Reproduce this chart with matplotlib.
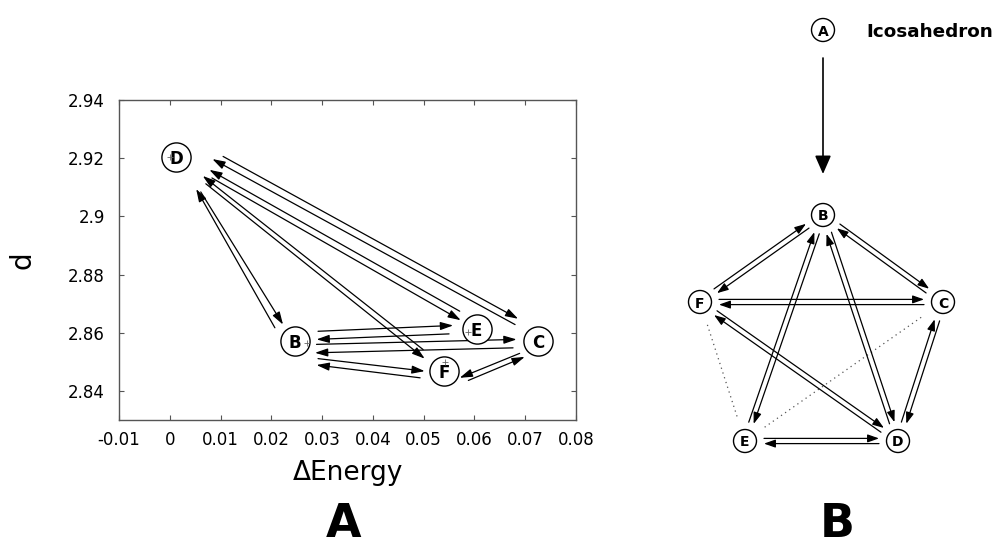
import numpy as np
import matplotlib
matplotlib.use("Agg")
import matplotlib.pyplot as plt
from matplotlib import ticker
from matplotlib.patches import Circle
from matplotlib.transforms import offset_copy

plt.rcParams['font.family'] = ['DejaVu Sans']

# states on the energy / distance plane
state_names = ['D', 'B', 'E', 'F', 'C']
state_energy = [0.0, 0.0271, 0.0588, 0.0542, 0.0725]
state_d = [2.9205, 2.8565, 2.8603, 2.8500, 2.8571]
state_marked = [True, True, True, True, False]

# transitions, one arrow each: tail (x0, y0) -> head (x1, y1)
trans_x0 = [0.0105, 0.0680, 0.0571, 0.0083, 0.0499, 0.0071, 0.0207, 0.0061,
            0.0292, 0.0550, 0.0289, 0.0676, 0.0292, 0.0493, 0.0689, 0.0588]
trans_y0 = [2.9206, 2.8628, 2.8674, 2.9132, 2.8542, 2.9112, 2.8617, 2.9084,
            2.8605, 2.8596, 2.8560, 2.8548, 2.8511, 2.8445, 2.8529, 2.8436]
trans_x1 = [0.0686, 0.0084, 0.0078, 0.0573, 0.0065, 0.0502, 0.0052, 0.0223,
            0.0558, 0.0289, 0.0683, 0.0286, 0.0502, 0.0289, 0.0571, 0.0699]
trans_y1 = [2.8648, 2.9197, 2.9160, 2.8643, 2.9139, 2.8511, 2.9094, 2.8628,
            2.8625, 2.8577, 2.8577, 2.8531, 2.8468, 2.8489, 2.8445, 2.8517]

# icosahedron network: node layout and links
graph_names = ['A', 'B', 'C', 'D', 'E', 'F']
graph_x = [823, 823, 943, 898, 745, 700]
graph_y = [30, 215, 302, 441, 441, 302]
graph_links = [('B', 'F'), ('B', 'C'), ('B', 'E'), ('B', 'D'),
               ('F', 'C'), ('F', 'D'), ('C', 'D'), ('E', 'D')]
graph_weak = [('F', 'E'), ('E', 'C')]

# where each circled label sits relative to its point (points)
label_offsets = {'D': (4.8, 0), 'B': (-8.9, 1.2), 'E': (6.0, 2.2),
                 'F': (-0.5, -6.3), 'C': (0, 0)}

fig = plt.figure(figsize=(10.03, 5.49), dpi=100)

# ---- panel A ----
ax = fig.add_axes([119 / 1003, 1 - 420 / 549, 457 / 1003, 320 / 549])
ax.set_xlim(-0.01, 0.08)
ax.set_ylim(2.83, 2.94)
ax.xaxis.set_major_locator(ticker.MultipleLocator(0.01))
ax.yaxis.set_major_locator(ticker.MultipleLocator(0.02))
ax.xaxis.set_major_formatter(ticker.FormatStrFormatter('%g'))
ax.yaxis.set_major_formatter(ticker.FormatStrFormatter('%g'))
ax.tick_params(direction='in', length=3.5, width=0.8, color='#555555',
               top=True, right=True, labelsize=12)
ax.tick_params(axis='x', pad=8)
ax.tick_params(axis='y', pad=10)
for sp in ax.spines.values():
    sp.set_color('#555555')
    sp.set_linewidth(1.0)
ax.set_xlabel('ΔEnergy', fontsize=19, labelpad=8)
ax.set_ylabel('d', fontsize=20, labelpad=23)

arrow_a = dict(arrowstyle='-|>,head_length=0.85,head_width=0.27',
               color='black', lw=0.9, mutation_scale=9,
               shrinkA=0, shrinkB=0)
for x0, y0, x1, y1 in zip(trans_x0, trans_y0, trans_x1, trans_y1):
    ax.annotate('', xy=(x1, y1), xytext=(x0, y0), arrowprops=arrow_a,
                zorder=2)

for name, x, y, marked in zip(state_names, state_energy, state_d, state_marked):
    dx, dy = label_offsets[name]
    tr = offset_copy(ax.transData, fig=fig, x=dx, y=dy, units='points')
    ax.plot(x, y, 'o', ms=21, mfc='white', mec='black', mew=1.0,
            transform=tr, zorder=3, clip_on=False)
    ax.text(x, y, name, transform=tr, ha='center', va='center_baseline',
            fontsize=12, fontweight='bold', zorder=4)
    if marked:
        ax.plot(x, y, '+', ms=5, mew=0.6, color='#666666', zorder=5)

# ---- panel B (pixel layout over the whole figure) ----
axb = fig.add_axes([0, 0, 1, 1])
axb.set_xlim(0, 1003)
axb.set_ylim(549, 0)
axb.axis('off')

pos = {n: np.array([x, y], float) for n, x, y in zip(graph_names, graph_x, graph_y)}

arrow_b = dict(arrowstyle='-|>,head_length=0.85,head_width=0.3',
               color='black', lw=0.9, mutation_scale=8,
               shrinkA=0, shrinkB=0)
for a, b in graph_links:
    p, q = pos[a], pos[b]
    u = (q - p) / np.linalg.norm(q - p)
    n = np.array([-u[1], u[0]])
    for s, t, side in [(p, q, -1), (q, p, 1)]:
        v = (t - s) / np.linalg.norm(t - s)
        start = s + v * 19 + side * n * 2.6
        end = t - v * 19 + side * n * 2.6
        axb.annotate('', xy=end, xytext=start, arrowprops=arrow_b)

for a, b in graph_weak:
    p, q = pos[a], pos[b]
    u = (q - p) / np.linalg.norm(q - p)
    s, t = p + u * 24, q - u * 24
    axb.plot([s[0], t[0]], [s[1], t[1]], ls=(0, (1, 3)), lw=0.9,
             color='#555555')

# entry arrow from A into the network
pa, pb = pos['A'], pos['B']
axb.annotate('', xy=(pb[0], pb[1] - 41), xytext=(pa[0], pa[1] + 28),
             arrowprops=dict(arrowstyle='-|>,head_length=0.8,head_width=0.35',
                             color='black', lw=1.2, mutation_scale=14,
                             shrinkA=0, shrinkB=0))

for name in graph_names:
    x, y = pos[name]
    axb.add_patch(Circle((x, y), 11.5, fc='white', ec='black', lw=1.0,
                         zorder=3))
    axb.text(x, y, name, ha='center', va='center_baseline', fontsize=10,
             fontweight='bold', zorder=4)

axb.text(866, 30, 'Icosahedron', ha='left', va='center_baseline',
         fontsize=13.2, fontweight='bold')

axb.text(344, 537, 'A', ha='center', va='baseline', fontsize=33,
         fontweight='bold')
axb.text(837, 537, 'B', ha='center', va='baseline', fontsize=33,
         fontweight='bold')

fig.savefig('out.png', dpi=100)
